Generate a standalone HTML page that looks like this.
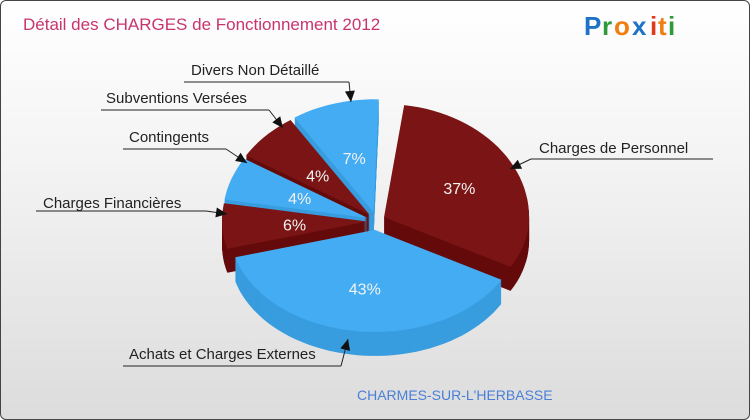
<!DOCTYPE html>
<html><head><meta charset="utf-8">
<style>
html,body{margin:0;padding:0;}
body{width:750px;height:420px;overflow:hidden;font-family:"Liberation Sans",sans-serif;}
#wrap{position:relative;width:748px;height:418px;border:1px solid #444;border-radius:6px;background:linear-gradient(#ffffff,#f3f3f3 40%,#dcdcdc);overflow:hidden;}
svg{position:absolute;left:0;top:0;}
</style></head>
<body>
<div id="wrap">
<svg id="chart" width="750" height="420">
  <text x="22" y="29" font-size="17" fill="#c8346e">Détail des CHARGES de Fonctionnement 2012</text>
  <g font-size="26" font-weight="bold" font-family="Liberation Sans, sans-serif">
    <text x="583" y="34" fill="#1e73c8">P</text>
    <text x="601" y="34" fill="#2e9a3a">r</text>
    <text x="613" y="34" fill="#f07f12">o</text>
    <text x="631" y="34" fill="#1e73c8">x</text>
    <text x="649" y="34" fill="#e03a1e">i</text>
    <text x="657" y="34" fill="#f07f12">t</text>
    <text x="667" y="34" fill="#2e9a3a">i</text>
  </g>
  <text x="356" y="399" font-size="14" fill="#4a7fd8">CHARMES-SUR-L'HERBASSE</text>
  <g id="slices"></g>
  <g id="labels" font-size="15" fill="#222"></g>
</svg>
</div>
<script>
const categories = ["Charges de Personnel","Achats et Charges Externes","Charges Financières","Contingents","Subventions Versées","Divers Non Détaillé"];
const values = [37,43,6,4,4,7];
const pctLabels = ["37%","43%","6%","4%","4%","7%"];
const colors = ["red","blue","red","blue","red","blue"];

const NS="http://www.w3.org/2000/svg";
const cx=375, cy=220, rx=145, ryTop=113, ryBot=102, depth=24, explode=9;
const palette={red:{top:"#7b1515",side:"#650b0b"},blue:{top:"#44acf3",side:"#389ddf"}};
// perspective warp: cumulative fraction -> screen parametric angle (deg)
const wf=[0,0.25,0.5,0.75,0.8,0.86,0.9,0.94,1];
const wa=[8,83,161,241,257,283,307,333,362];
function angleOf(f){
  for(let i=1;i<wf.length;i++){ if(f<=wf[i]){const t=(f-wf[i-1])/(wf[i]-wf[i-1]);return wa[i-1]+t*(wa[i]-wa[i-1]);} }
  return wa[wa.length-1];
}
function pt(a,r,ox,oy){const rad=a*Math.PI/180;const c=Math.cos(rad);const ry=c>0?ryTop:ryBot;return [ox+r*rx*Math.sin(rad), oy-r*ry*c];}
function slicePath(a0,a1,ox,oy){
  let d="M"+ox+","+oy;
  const n=Math.max(4,Math.ceil((a1-a0)/3));
  for(let i=0;i<=n;i++){const p=pt(a0+(a1-a0)*i/n,1,ox,oy);d+=" L"+p[0].toFixed(1)+","+p[1].toFixed(1);}
  return d+" Z";
}
const total=values.reduce((a,b)=>a+b,0);
const gS=document.getElementById("slices");
let cum=0; const sl=[];
values.forEach((v,i)=>{
  const a0=angleOf(cum/total), a1=angleOf((cum+v)/total); cum+=v;
  const mid=(a0+a1)/2, rad=mid*Math.PI/180;
  const ox=cx+explode*Math.sin(rad), oy=cy-explode*Math.cos(rad);
  sl.push({i,a0,a1,mid,ox,oy,sortY:-Math.cos(rad)});
});
sl.slice().sort((a,b)=>a.sortY-b.sortY).forEach(s=>{
  const g=document.createElementNS(NS,"g");
  
  
  const c=palette[colors[s.i]];
  for(let k=depth;k>=1;k--){
    const p=document.createElementNS(NS,"path");
    p.setAttribute("d",slicePath(s.a0,s.a1,s.ox,s.oy+k));
    p.setAttribute("fill",c.side);
    g.appendChild(p);
  }
  const top=document.createElementNS(NS,"path");
  top.setAttribute("d",slicePath(s.a0,s.a1,s.ox,s.oy));
  top.setAttribute("fill",c.top);
  g.appendChild(top);
  gS.appendChild(g);
});
sl.forEach(s=>{
  const r = values[s.i]>20?0.58:0.5;
  const p=pt(s.mid,r,s.ox,s.oy);
  const t=document.createElementNS(NS,"text");
  
  
  t.setAttribute("x",p[0].toFixed(1));t.setAttribute("y",(p[1]+6).toFixed(1));
  t.setAttribute("text-anchor","middle");t.setAttribute("font-size","16");t.setAttribute("fill","#f2f2f2");
  t.textContent=pctLabels[s.i];
  gS.appendChild(t);
});
// callout labels: [textX,textY,lineX1,lineX2,lineY, arrowX, arrowY, elbowX]
const callouts=[
  [538,152,530,712,158,509,168,530],
  [128,358,122,340,365,347,338,340],
  [42,207,35,205,210,226,213,205],
  [128,141,122,225,148,246,162,225],
  [105,102,100,268,109,282,127,268],
  [190,74,183,348,81,350,101,348]
];
const gL=document.getElementById("labels");
callouts.forEach((c,i)=>{
  const t=document.createElementNS(NS,"text");
  
  
  t.setAttribute("x",c[0]);t.setAttribute("y",c[1]);t.textContent=categories[i];
  gL.appendChild(t);
  const l=document.createElementNS(NS,"path");
  
  
  l.setAttribute("d",`M${c[2]},${c[4]} L${c[3]},${c[4]} M${c[7]},${c[4]} L${c[5]},${c[6]}`);
  l.setAttribute("stroke","#222");l.setAttribute("fill","none");l.setAttribute("stroke-width","1");
  gL.appendChild(l);
  const ang=Math.atan2(c[6]-c[4],c[5]-c[7]);
  const L=11,W=5;
  const bx=c[5]-L*Math.cos(ang), by=c[6]-L*Math.sin(ang);
  const a=document.createElementNS(NS,"polygon");
  
  
  a.setAttribute("points",`${c[5]},${c[6]} ${bx-W*Math.sin(ang)},${by+W*Math.cos(ang)} ${bx+W*Math.sin(ang)},${by-W*Math.cos(ang)}`);
  a.setAttribute("fill","#111");
  gL.appendChild(a);
});
</script>
</body></html>
